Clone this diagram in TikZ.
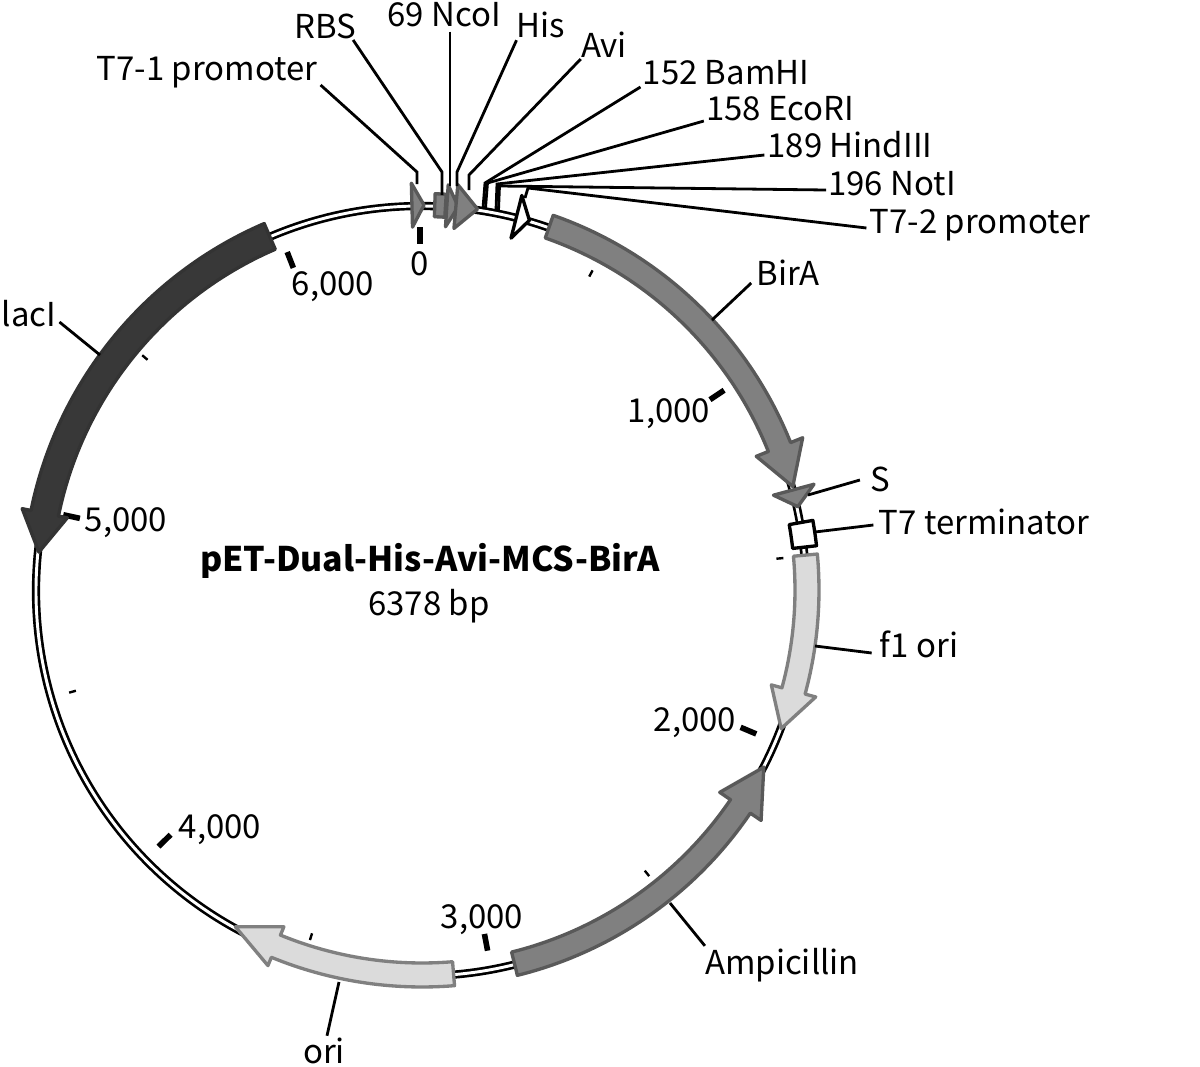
\documentclass[tikz,border=0pt]{standalone}
\usepackage{fontspec}
\setmainfont{Noto Sans CJK JP}
\usepackage{xcolor}
\usetikzlibrary{positioning,calc}

\definecolor{darkfeat}{gray}{0.22}
\definecolor{midfeat}{gray}{0.50}
\definecolor{lightfeat}{gray}{0.86}

% style, start, head base, tip (clockwise degrees from the top), half body, half head
\newcommand{\featarrow}[6]{
  \draw[#1] (#2-90:385+#5) arc[start angle=#2-90, end angle=#3-90, radius=385+#5]
    -- (#3-90:385+#6) -- (#4-90:385) -- (#3-90:385-#6) -- (#3-90:385-#5)
    arc[start angle=#3-90, end angle=#2-90, radius=385-#5] -- cycle;
}
% style, start, end, half height
\newcommand{\featbox}[4]{
  \draw[#1] (#2-90:385+#4) arc[start angle=#2-90, end angle=#3-90, radius=385+#4]
    -- (#3-90:385-#4) arc[start angle=#3-90, end angle=#2-90, radius=385-#4] -- cycle;
}

\begin{document}
\begin{tikzpicture}[
  x=0.75pt, y=-0.75pt,
  lbl/.style={font=\fontsize{24.7}{28}\selectfont, inner sep=0pt},
  leader/.style={draw=black, line width=2.1pt, line join=miter},
  dark/.style={draw=black!80, fill=darkfeat, line width=2.5pt, line join=round},
  mid/.style={draw=black!65, fill=midfeat, line width=2.5pt, line join=round},
  light/.style={draw=black!50, fill=lightfeat, line width=2.5pt, line join=round},
  blank/.style={draw=black, fill=white, line width=2.5pt, line join=round},
  major/.style={line width=4.2pt},
  minor/.style={line width=1.8pt}
]
\useasboundingbox (0,0) rectangle (1200,1067);

% backbone
\draw[line width=6.2pt] (421,591) circle[radius=385];
\draw[white, line width=2.2pt] (421,591) circle[radius=385];

% ticks every 500
\begin{scope}[shift={(420,592)}]
\foreach \pos in {0,1000,...,6000}
  \draw[major] ({\pos/6378*360-90}:365) -- ({\pos/6378*360-90}:348);
\foreach \pos in {500,1500,...,5500}
  \draw[minor] ({\pos/6378*360-90}:365) -- ({\pos/6378*360-90}:358);
\end{scope}

% features
\begin{scope}[shift={(422,590)}]
\featarrow{dark}{336.7}{281.5}{275.65}{14}{23}
\featarrow{mid}{19.3}{68.2}{74.4}{12}{25}
\featarrow{light}{84.8}{105.2}{111.1}{12}{23}
\featarrow{mid}{166.1}{124.2}{117.4}{12}{25}
\featarrow{light}{175.3}{202.3}{209}{12}{21}
\featarrow{mid}{-1.5}{-1.5}{0.3}{0}{22}
\featbox{mid}{1.9}{3.5}{11.5}
\featarrow{mid}{3.7}{3.7}{5.4}{0}{21}
\featarrow{mid}{5.05}{5.05}{8.3}{0}{22}
\featarrow{mid}{74.9}{74.9}{77.5}{0}{21}
\featbox{blank}{79.9}{83.6}{12}
\end{scope}

% labels
\node[lbl] (t7one) at (207,72) {T7-1 promoter};
\node[lbl] (rbs) at (325,26) {RBS};
\node[lbl] (ncoi) at (444,15) {69 NcoI};
\node[lbl] (his) at (541,25) {His};
\node[lbl] (avi) at (604,45) {Avi};
\node[lbl] (bamhi) at (726,73) {152 BamHI};
\node[lbl] (ecori) at (780,109) {158 EcoRI};
\node[lbl] (hindiii) at (850,145) {189 HindIII};
\node[lbl] (noti) at (892,184) {196 NotI};
\node[lbl] (t7two) at (980,225) {T7-2 promoter};
\node[lbl] (bira) at (788,273) {BirA};
\node[lbl] (sig) at (880,479) {S};
\node[lbl] (t7term) at (984,522) {T7 terminator};
\node[lbl] (fone) at (919,644) {f1 ori};
\node[lbl] (amp) at (782,965) {Ampicillin};
\node[lbl] (ori) at (324,1051) {ori};
\node[lbl] (laci) at (29,314) {lacI};

\node[lbl] (tick0) at (420,264) {0};
\node[lbl] (tick1) at (669,414) {1,000};
\node[lbl] (tick2) at (695,723) {2,000};
\node[lbl] (tick3) at (482,920) {3,000};
\node[lbl] (tick4) at (220,830) {4,000};
\node[lbl] (tick5) at (126,523) {5,000};
\node[lbl] (tick6) at (333,287) {6,000};

\node[lbl, font=\fontsize{25.4}{28}\selectfont\bfseries] (name) at (430,561) {pET-Dual-His-Avi-MCS-BirA};
\node[lbl] (size) at (429,606) {6378 bp};

% leader lines
\draw[leader] (t7one.east) ++(3,13) -- (417,172) -- (417,184);
\draw[leader] (rbs.east) ++(-3,14) -- (442,172) -- (442,195);
\draw[leader] (ncoi.south) ++(6,4) -- (450,186);
\draw[leader] (his.south west) ++(0,2) -- (457,172) -- (457,186);
\draw[leader] (avi.south west) ++(0,1) -- (469,175) -- (469,190);
\draw[leader] (bamhi.west) ++(-2,14) -- (485,183) -- (483,208);
\draw[leader] (ecori.west) ++(-2,12) -- (487.5,183) -- (485.5,208);
\draw[leader] (hindiii.west) ++(-3,10) -- (497,184) -- (496,210);
\draw[leader] (noti.west) ++(-2,6) -- (499.5,186) -- (498.5,210);
\draw[leader] (t7two.west) ++(-3,3) -- (528,188) -- (525,198);

% white promoter, over its leader
\begin{scope}[shift={(422,590)}]
\featarrow{blank}{14.2}{14.2}{16.2}{0}{22}
\end{scope}

\draw[leader] (bira.west) ++(-5,10) -- (712,320);
\draw[leader] (laci.east) ++(3,8) -- (100,355);
\draw[leader] (sig.west) ++(-10,1) -- (808,495);
\draw[leader] (t7term.west) ++(-5,3) -- (815,532);
\draw[leader] (fone.west) ++(-8,9) -- (815,646);
\draw[leader] (amp.north west) ++(0,-2) -- (670,903);
\draw[leader] (ori.north) ++(3,-2) -- (339,982);
\end{tikzpicture}
\end{document}
